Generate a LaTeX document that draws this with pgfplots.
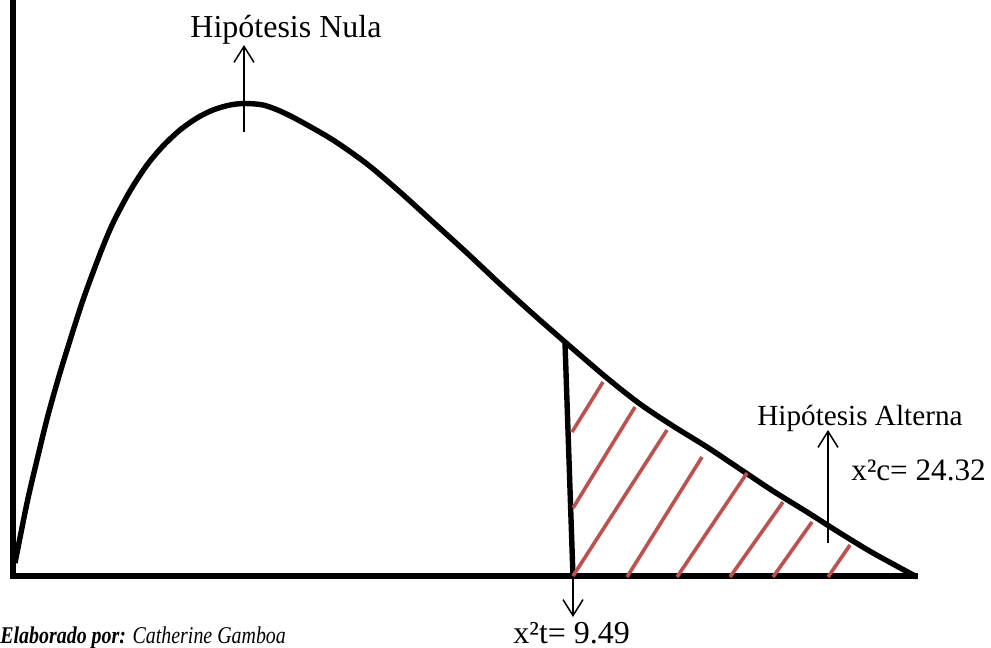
\documentclass[border=0pt]{standalone}
\usepackage{pgfplots}
\pgfplotsset{compat=1.18}
\usepackage{graphicx}
\usetikzlibrary{arrows.meta}
\usepackage{fontspec}
\setmainfont{Liberation Serif}
\definecolor{hatchred}{RGB}{192,80,77}

\begin{document}
\begin{tikzpicture}
\useasboundingbox (0,0) rectangle (495.5pt,324pt);
\begin{axis}[
  at={(0,0)}, anchor=south west,
  width=495.5pt, height=324pt, scale only axis,
  xmin=0, xmax=991, ymin=0, ymax=648,
  y dir=reverse,
  hide axis, clip=false,
]
% axes drawn by hand
\addplot[black, line width=2.7pt] coordinates {(13,0) (13,576) (918,576)};

% chi-square like curve
\addplot[black, line width=2.7pt, smooth, line join=round] coordinates {
  (15,563) (27,503) (37,460) (47,419) (57,383) (67,350) (83,300)
  (100,254) (113,223) (130,191) (147,165) (163,146) (180,130) (197,118)
  (213,110) (230,105) (245,103.5) (263,105) (280,111) (300,121) (333,140)
  (367,164) (400,192) (433,222) (467,253) (500,284) (533,314) (565,342)
  (607,378) (640,404) (673,426) (707,447) (740,469) (773,491) (807,512)
  (840,533) (873,553) (917,577)
};

% critical value cut
\addplot[black, line width=2.7pt] coordinates {(565,343) (573,577)};

% rejection region hatching
\addplot[hatchred, line width=1.8pt] coordinates {(572,432) (603,382)};
\addplot[hatchred, line width=1.8pt] coordinates {(573,508) (635,407)};
\addplot[hatchred, line width=1.8pt] coordinates {(573,576) (667,430)};
\addplot[hatchred, line width=1.8pt] coordinates {(627,577) (702,457)};
\addplot[hatchred, line width=1.8pt] coordinates {(677,577) (747,473)};
\addplot[hatchred, line width=1.8pt] coordinates {(730,577) (783,502)};
\addplot[hatchred, line width=1.8pt] coordinates {(773,577) (812,522)};
\addplot[hatchred, line width=1.8pt] coordinates {(828,577) (850,545)};

% arrows
\addplot[black, line width=0.75pt, -{Straight Barb[length=8pt,width=10pt]}] coordinates {(244,132) (244,45)};
\addplot[black, line width=0.75pt, -{Straight Barb[length=8pt,width=10pt]}] coordinates {(828,543) (828,430)};
\addplot[black, line width=0.75pt, -{Straight Barb[length=8pt,width=10pt]}] coordinates {(573,578) (573,617)};

% labels
\node[anchor=base west, inner sep=0, font=\fontsize{16}{19}\selectfont] at (axis cs:190,38) {Hipótesis Nula};
\node[anchor=base west, inner sep=0, font=\fontsize{14.6}{18}\selectfont] at (axis cs:757,425) {Hipótesis Alterna};
\node[anchor=base west, inner sep=0, font=\fontsize{15.6}{19}\selectfont] at (axis cs:851,480) {x²c= 24.32};
\node[anchor=base west, inner sep=0, font=\fontsize{16}{19}\selectfont] at (axis cs:513,643) {x²t= 9.49};
\node[anchor=base west, inner sep=0, font=\fontsize{12}{14}\selectfont] at (axis cs:0,643)
  {\scalebox{0.83}[1]{\textbf{\textit{Elaborado por:}} \textit{Catherine Gamboa}}};
\end{axis}
\end{tikzpicture}
\end{document}
